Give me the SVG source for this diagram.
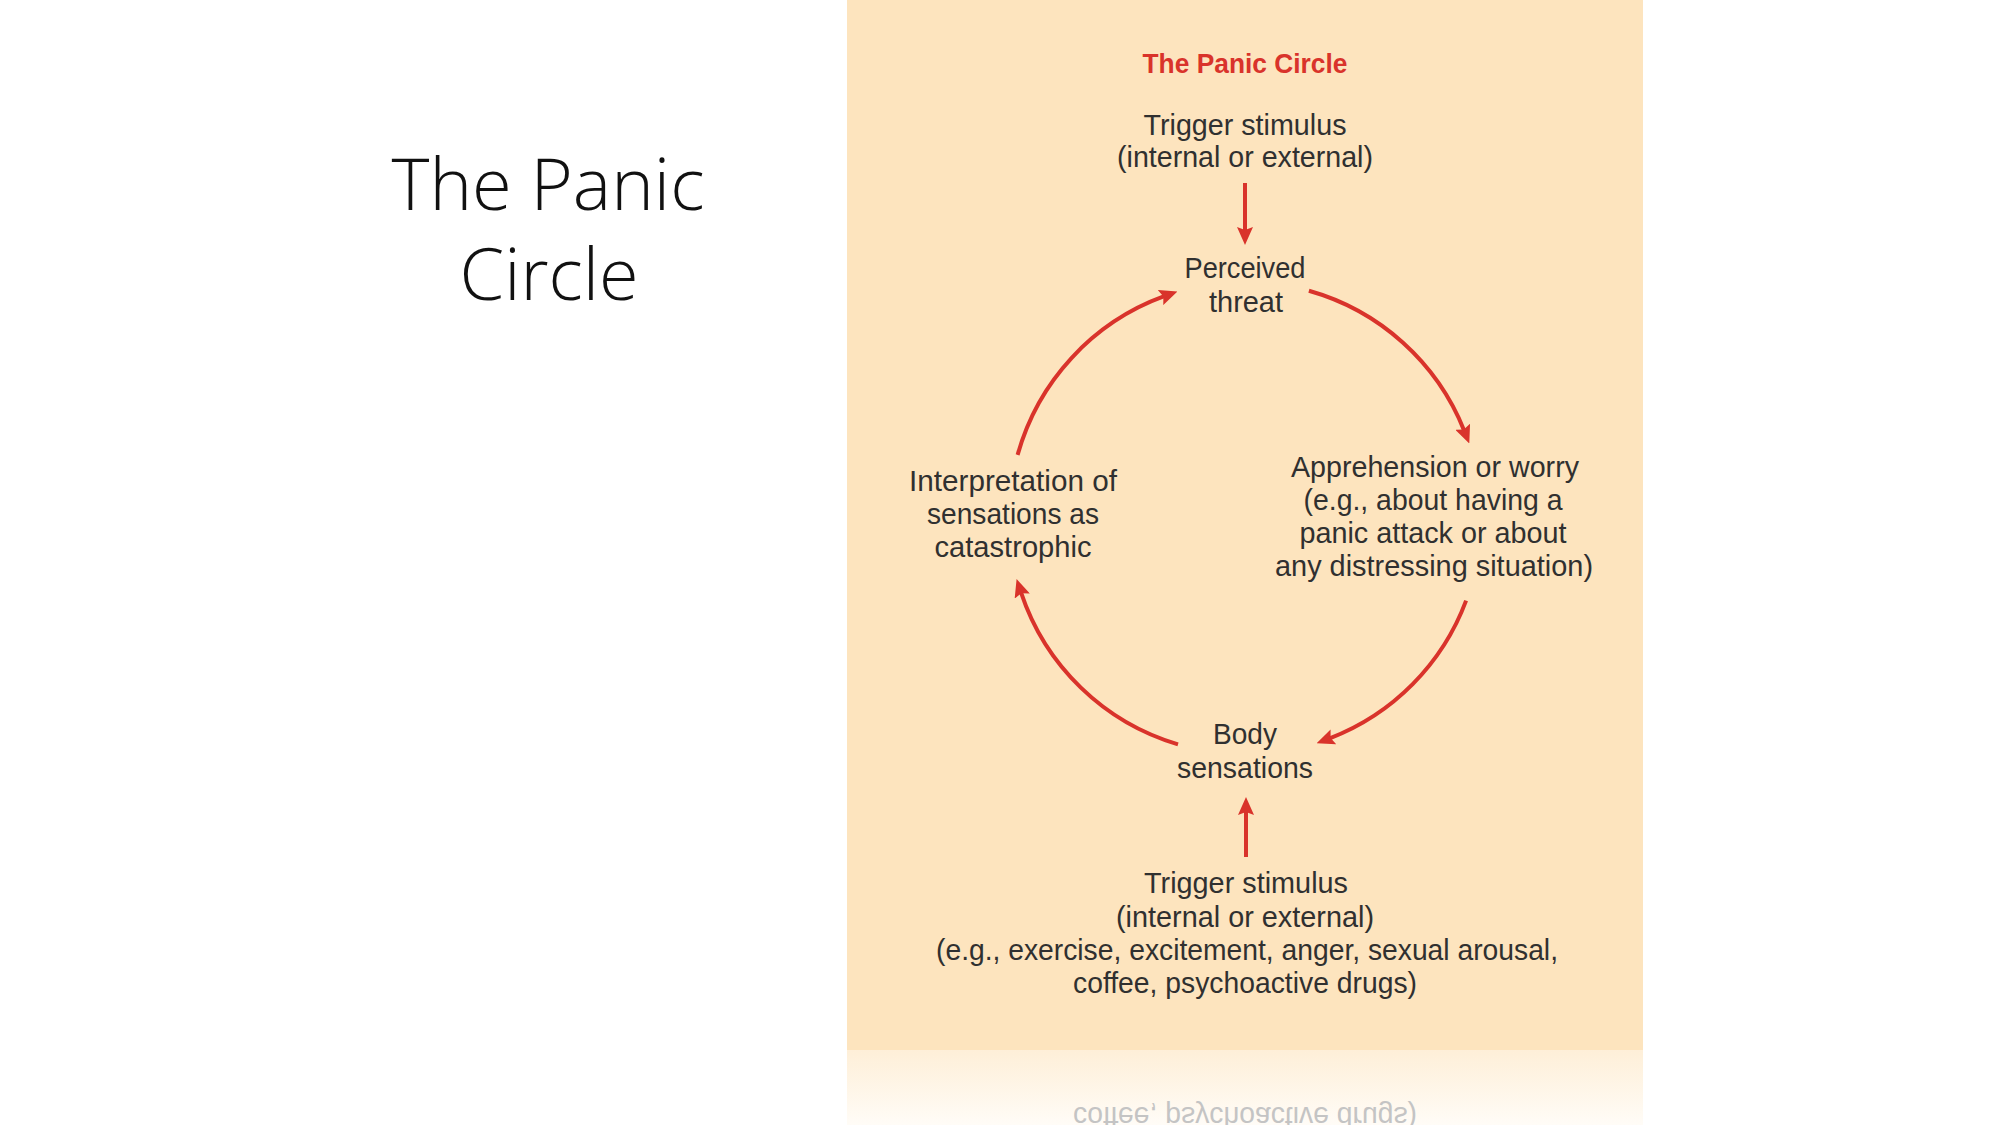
<svg xmlns="http://www.w3.org/2000/svg" width="2000" height="1125" viewBox="0 0 2000 1125">
  <defs>
    <style>
      .t { font-family: "Liberation Sans", Arial, sans-serif; font-size: 29px; fill: #303030; text-anchor: middle; }
      .title { font-family: "Liberation Sans", Arial, sans-serif; font-size: 28px; font-weight: bold; fill: #D9332B; text-anchor: middle; }
      .slide { font-family: "Open Sans", "Liberation Sans", sans-serif; font-weight: 300; font-size: 72px; fill: #111; text-anchor: middle; }
      .arc { fill: none; stroke: #D9332B; stroke-width: 4; marker-end: url(#ah); }
      .refl { font-family: "Liberation Sans", Arial, sans-serif; font-size: 29px; fill: #c4c4c4; text-anchor: middle; }
    </style>
    <marker id="ah" viewBox="0 0 18 16" refX="4" refY="8" markerWidth="18" markerHeight="16" markerUnits="userSpaceOnUse" orient="auto">
      <path d="M0,0 L18,8 L0,16 L3,8 z" fill="#D9332B"/>
    </marker>
    <linearGradient id="rg" x1="0" y1="0" x2="0" y2="1">
      <stop offset="0" stop-color="#FEEFD8"/>
      <stop offset="1" stop-color="#FFFCF7"/>
    </linearGradient>
  </defs>

  <rect x="0" y="0" width="2000" height="1125" fill="#ffffff"/>

  <g id="slide-title">
    <text class="slide" x="548" y="210" textLength="313" lengthAdjust="spacingAndGlyphs">The Panic</text>
    <text class="slide" x="549" y="300">Circle</text>
  </g>

  <g id="panel">
    <rect x="847" y="0" width="796" height="1050" fill="#FDE4BE"/>
    <rect x="847" y="1050" width="796" height="75" fill="url(#rg)"/>
    <text class="refl" transform="translate(0,2100) scale(1,-1)" x="1245" y="993" textLength="344" lengthAdjust="spacingAndGlyphs">coffee, psychoactive drugs)</text>
  </g>

  <g id="diagram-title">
    <text class="title" x="1245" y="73" textLength="205" lengthAdjust="spacingAndGlyphs">The Panic Circle</text>
  </g>

  <g id="node-trigger-top">
    <text class="t" x="1245" y="135" textLength="203" lengthAdjust="spacingAndGlyphs">Trigger stimulus</text>
    <text class="t" x="1245" y="167" textLength="256" lengthAdjust="spacingAndGlyphs">(internal or external)</text>
  </g>

  <g id="node-perceived-threat">
    <text class="t" x="1245" y="278" textLength="121" lengthAdjust="spacingAndGlyphs">Perceived</text>
    <text class="t" x="1246" y="312" textLength="74" lengthAdjust="spacingAndGlyphs">threat</text>
  </g>

  <g id="node-apprehension">
    <text class="t" x="1435" y="477" textLength="288" lengthAdjust="spacingAndGlyphs">Apprehension or worry</text>
    <text class="t" x="1433" y="510" textLength="259" lengthAdjust="spacingAndGlyphs">(e.g., about having a</text>
    <text class="t" x="1433" y="543" textLength="267" lengthAdjust="spacingAndGlyphs">panic attack or about</text>
    <text class="t" x="1434" y="576" textLength="318" lengthAdjust="spacingAndGlyphs">any distressing situation)</text>
  </g>

  <g id="node-interpretation">
    <text class="t" x="1013" y="491" textLength="208" lengthAdjust="spacingAndGlyphs">Interpretation of</text>
    <text class="t" x="1013" y="524" textLength="172" lengthAdjust="spacingAndGlyphs">sensations as</text>
    <text class="t" x="1013" y="557" textLength="157" lengthAdjust="spacingAndGlyphs">catastrophic</text>
  </g>

  <g id="node-body-sensations">
    <text class="t" x="1245" y="744" textLength="64" lengthAdjust="spacingAndGlyphs">Body</text>
    <text class="t" x="1245" y="778" textLength="136" lengthAdjust="spacingAndGlyphs">sensations</text>
  </g>

  <g id="node-trigger-bottom">
    <text class="t" x="1246" y="893" textLength="204" lengthAdjust="spacingAndGlyphs">Trigger stimulus</text>
    <text class="t" x="1245" y="927" textLength="258" lengthAdjust="spacingAndGlyphs">(internal or external)</text>
    <text class="t" x="1247" y="960" textLength="622" lengthAdjust="spacingAndGlyphs">(e.g., exercise, excitement, anger, sexual arousal,</text>
    <text class="t" x="1245" y="993" textLength="344" lengthAdjust="spacingAndGlyphs">coffee, psychoactive drugs)</text>
  </g>

  <g id="connectors">
    <path class="arc" d="M1245,183 L1245,231"/>
    <path class="arc" d="M1246,857 L1246,811"/>
    <path class="arc" d="M1017.6,454.9 A236,236 0 0 1 1164.3,296.2"/>
    <path class="arc" d="M1308.9,290.8 A236,236 0 0 1 1464.1,430.4"/>
    <path class="arc" d="M1466.1,600.6 A236,236 0 0 1 1329.7,738.3"/>
    <path class="arc" d="M1178.0,744.3 A236,236 0 0 1 1021.0,592.3"/>
  </g>
</svg>
